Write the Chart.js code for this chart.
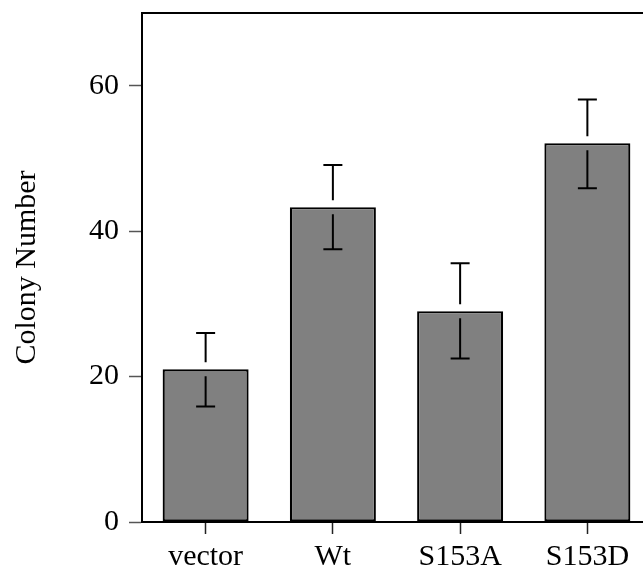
<!DOCTYPE html>
<html>
<head>
<meta charset="utf-8">
<script src="https://cdn.jsdelivr.net/npm/chart.js@4.4.1/dist/chart.umd.min.js"></script>
<style>
  html, body { margin: 0; padding: 0; background: #fff; overflow: hidden; }
  canvas { display: block; }
</style>
</head>
<body>
<canvas id="colonyChart" width="660" height="569"></canvas>
<script>
const categories = ['vector', 'Wt', 'S153A', 'S153D'];
const colonyMean = [21, 43.3, 29, 52.1];
const errHigh = [26, 49.1, 35.6, 58.1];
const errLow = [15.9, 37.5, 22.5, 45.9];
const yTicks = [0, 20, 40, 60];

const serif = "'Liberation Serif', 'Times New Roman', serif";

// error bars with a little gap around the top of each bar
const errorBars = {
  id: 'errorBars',
  afterDatasetsDraw(chart) {
    const { ctx, scales: { y } } = chart;
    const meta = chart.getDatasetMeta(0);
    const gap = 7, cap = 9.5;
    ctx.save();
    ctx.strokeStyle = '#000';
    ctx.lineWidth = 2;
    meta.data.forEach((bar, i) => {
      const x = bar.x;
      const yHi = y.getPixelForValue(errHigh[i]);
      const yMid = y.getPixelForValue(colonyMean[i]);
      const yLo = y.getPixelForValue(errLow[i]);
      ctx.beginPath();
      ctx.moveTo(x, yHi); ctx.lineTo(x, yMid - gap);
      ctx.moveTo(x, yMid + gap); ctx.lineTo(x, yLo);
      ctx.moveTo(x - cap, yHi); ctx.lineTo(x + cap, yHi);
      ctx.moveTo(x - cap, yLo); ctx.lineTo(x + cap, yLo);
      ctx.stroke();
    });
    ctx.restore();
  }
};

// top line of the frame
const topFrame = {
  id: 'topFrame',
  afterDraw(chart) {
    const { ctx, chartArea: { left, right, top } } = chart;
    ctx.save();
    ctx.strokeStyle = '#000';
    ctx.lineWidth = 2;
    ctx.beginPath();
    ctx.moveTo(left - 1, top);
    ctx.lineTo(right, top);
    ctx.stroke();
    ctx.restore();
  }
};

new Chart(document.getElementById('colonyChart'), {
  type: 'bar',
  data: {
    labels: categories,
    datasets: [{
      data: colonyMean,
      backgroundColor: '#808080',
      borderColor: '#000',
      borderWidth: 2.2,
      borderSkipped: false,
      barPercentage: 0.676,
      categoryPercentage: 1
    }]
  },
  options: {
    responsive: false,
    animation: false,
    layout: { padding: { top: 13, right: 9, left: 0, bottom: 0 } },
    plugins: {
      legend: { display: false },
      tooltip: { enabled: false }
    },
    scales: {
      x: {
        grid: {
          offset: false,
          drawOnChartArea: false,
          drawTicks: true,
          tickLength: 12,
          tickColor: '#222',
          tickWidth: 1.5
        },
        border: { color: '#000', width: 2 },
        ticks: {
          color: '#000',
          padding: 5,
          maxRotation: 0,
          font: { family: serif, size: 30 }
        },
        afterFit(axis) {
          axis.height = 47;
          axis.paddingLeft = 0;
          axis.paddingRight = 0;
        }
      },
      y: {
        min: 0,
        max: 70,
        afterBuildTicks(axis) { axis.ticks = yTicks.map(v => ({ value: v })); },
        grid: {
          drawOnChartArea: false,
          drawTicks: true,
          tickLength: 13,
          tickColor: '#555',
          tickWidth: 1.5
        },
        border: { color: '#000', width: 2 },
        ticks: {
          color: '#000',
          padding: 10,
          font: { family: serif, size: 30 }
        },
        title: {
          display: true,
          text: 'Colony Number',
          color: '#000',
          padding: { top: 9, bottom: 0 },
          font: { family: serif, size: 30 }
        },
        afterFit(axis) {
          axis.width = 142;
          axis.paddingTop = 0;
          axis.paddingBottom = 0;
        }
      }
    }
  },
  plugins: [errorBars, topFrame]
});
</script>
</body>
</html>
